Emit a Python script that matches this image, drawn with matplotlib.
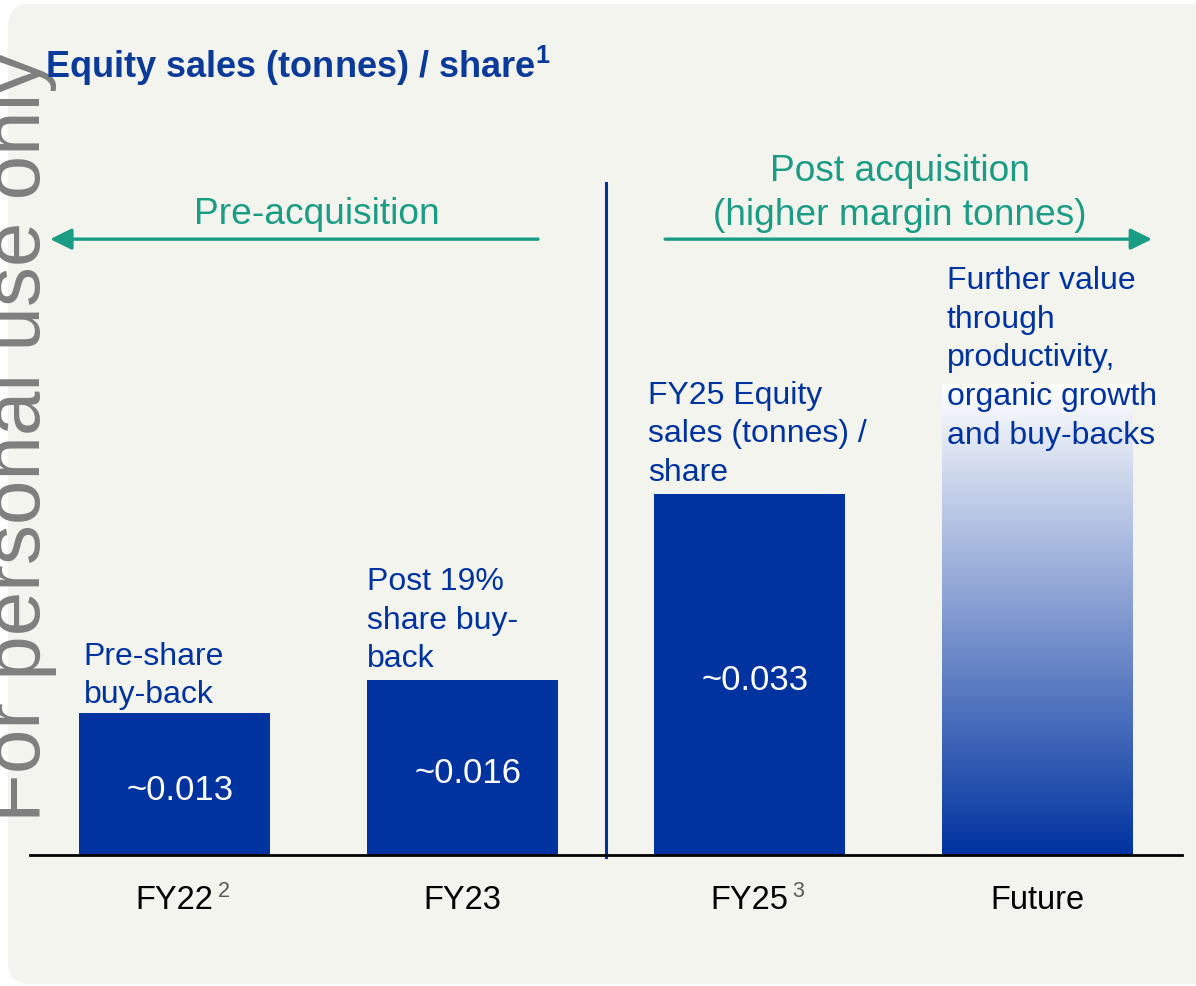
import numpy as np
import matplotlib
matplotlib.use("Agg")
import matplotlib.pyplot as plt
from matplotlib.patches import FancyBboxPatch
from matplotlib.colors import LinearSegmentedColormap

plt.rcParams['font.family'] = ['Liberation Sans', 'DejaVu Sans']
plt.rcParams['mathtext.fontset'] = 'custom'
plt.rcParams['mathtext.rm'] = 'Liberation Sans'
plt.rcParams['mathtext.bf'] = 'Liberation Sans:bold'

# chart data
categories = ['FY22', 'FY23', 'FY25', 'Future']
footnotes = ['2', '', '3', '']
values = [0.013, 0.016, 0.033, 0.043]
value_labels = ['~0.013', '~0.016', '~0.033', '']
notes = ['Pre-share\nbuy-back',
         'Post 19%\nshare buy-\nback',
         'FY25 Equity\nsales (tonnes) /\nshare',
         'Further value\nthrough\nproductivity,\norganic growth\nand buy-backs']
title = r'Equity sales (tonnes) / share$^{\mathbf{1}}$'
pre_label = 'Pre-acquisition'
post_label = 'Post acquisition\n(higher margin tonnes)'
watermark = 'For personal use only'

BLUE = '#0033a0'
TEAL = '#1b9c85'
PANEL = '#f3f4ee'

W, H = 1196, 987
fig = plt.figure(figsize=(W / 100, H / 100), dpi=100)
fig.patch.set_facecolor('white')

# rounded background panel (display pixels)
panel = FancyBboxPatch((8, 2), 1230, 980, boxstyle='round,pad=0,rounding_size=22',
                       transform=None, fc=PANEL, ec='none', zorder=-10)
fig.add_artist(panel)

# watermark
fig.text(40 / W, 1 - 822 / H, watermark, rotation=90, rotation_mode='anchor',
         ha='left', va='baseline', fontsize=57.6, color='#7f7f7f')

# title
fig.text(45 / W, 1 - 78 / H, title, fontsize=26, fontweight='bold',
         color='#0a3a9a', va='baseline', ha='left')

ax = fig.add_axes([30 / W, (H - 856) / H, 1152 / W, 821 / H])
ax.set_facecolor('none')
ax.set_xlim(-0.503, 3.504)
ax.set_ylim(0, 0.075)
for side in ['top', 'right', 'left']:
    ax.spines[side].set_visible(False)
ax.spines['bottom'].set_linewidth(2)
ax.spines['bottom'].set_color('black')
ax.spines['bottom'].set_zorder(5)
ax.set_yticks([])

x = np.arange(len(categories))
width = 0.664

# solid bars
ax.bar(x[:3], values[:3], width=width, color=BLUE, zorder=2)

# faded bar for the future
fade = LinearSegmentedColormap.from_list('fade', [BLUE, '#ffffff'])
grad = np.linspace(0, 1, 256).reshape(-1, 1)
ax.imshow(grad, cmap=fade, origin='lower', aspect='auto', zorder=2,
          extent=[x[3] - width / 2, x[3] + width / 2, 0, values[3]])
ax.set_xlim(-0.503, 3.504)
ax.set_ylim(0, 0.075)

# value labels inside bars
for xi, v, lab in zip(x, values, value_labels):
    if lab:
        ax.text(xi + 0.02, v / 2 - 0.0005, lab, ha='center', va='center',
                color='white', fontsize=25, zorder=4)

# notes above bars
note_dx = [0.015, 0.0, -0.02, 0.017]
note_dy = [0.0003, 0.0006, 0.0006, -0.006]
for xi, v, note, dx, dy in zip(x, values, notes, note_dx, note_dy):
    ax.text(xi - width / 2 + dx, v + dy, note, ha='left', va='bottom',
            color=BLUE, fontsize=23, linespacing=1.38, zorder=4)

# divider between pre and post acquisition
ax.plot([1.5, 1.5], [-0.0002, 0.0614], color=BLUE, lw=2.2, clip_on=False, zorder=3)

# section arrows and headers
arrow_y = 0.05626
ax.annotate('', xy=(-0.433, arrow_y), xytext=(1.264, arrow_y),
            arrowprops=dict(arrowstyle='-|>,head_length=0.65,head_width=0.32',
                            color=TEAL, lw=2.4, shrinkA=0, shrinkB=0, mutation_scale=20))
ax.annotate('', xy=(3.4, arrow_y), xytext=(1.706, arrow_y),
            arrowprops=dict(arrowstyle='-|>,head_length=0.65,head_width=0.32',
                            color=TEAL, lw=2.4, shrinkA=0, shrinkB=0, mutation_scale=20))
ax.text(0.496, 0.0577, pre_label, ha='center', va='baseline', color=TEAL, fontsize=26.7)
ax.text(2.523, 0.0576, post_label, ha='center', va='baseline', color=TEAL,
        fontsize=26.7, linespacing=1.36, multialignment='center')

# category ticks with footnote superscripts
ax.set_xticks(x, categories, fontsize=23.5, color='black')
ax.tick_params(axis='x', length=0, pad=21)
for xi, fn in zip(x, footnotes):
    if fn:
        ax.annotate(fn, xy=(xi, 0), xytext=(43, -25), textcoords='offset pixels',
                    ha='left', va='top', fontsize=15.5, color='#595959')

fig.savefig('out.png', dpi=100, facecolor='white')
